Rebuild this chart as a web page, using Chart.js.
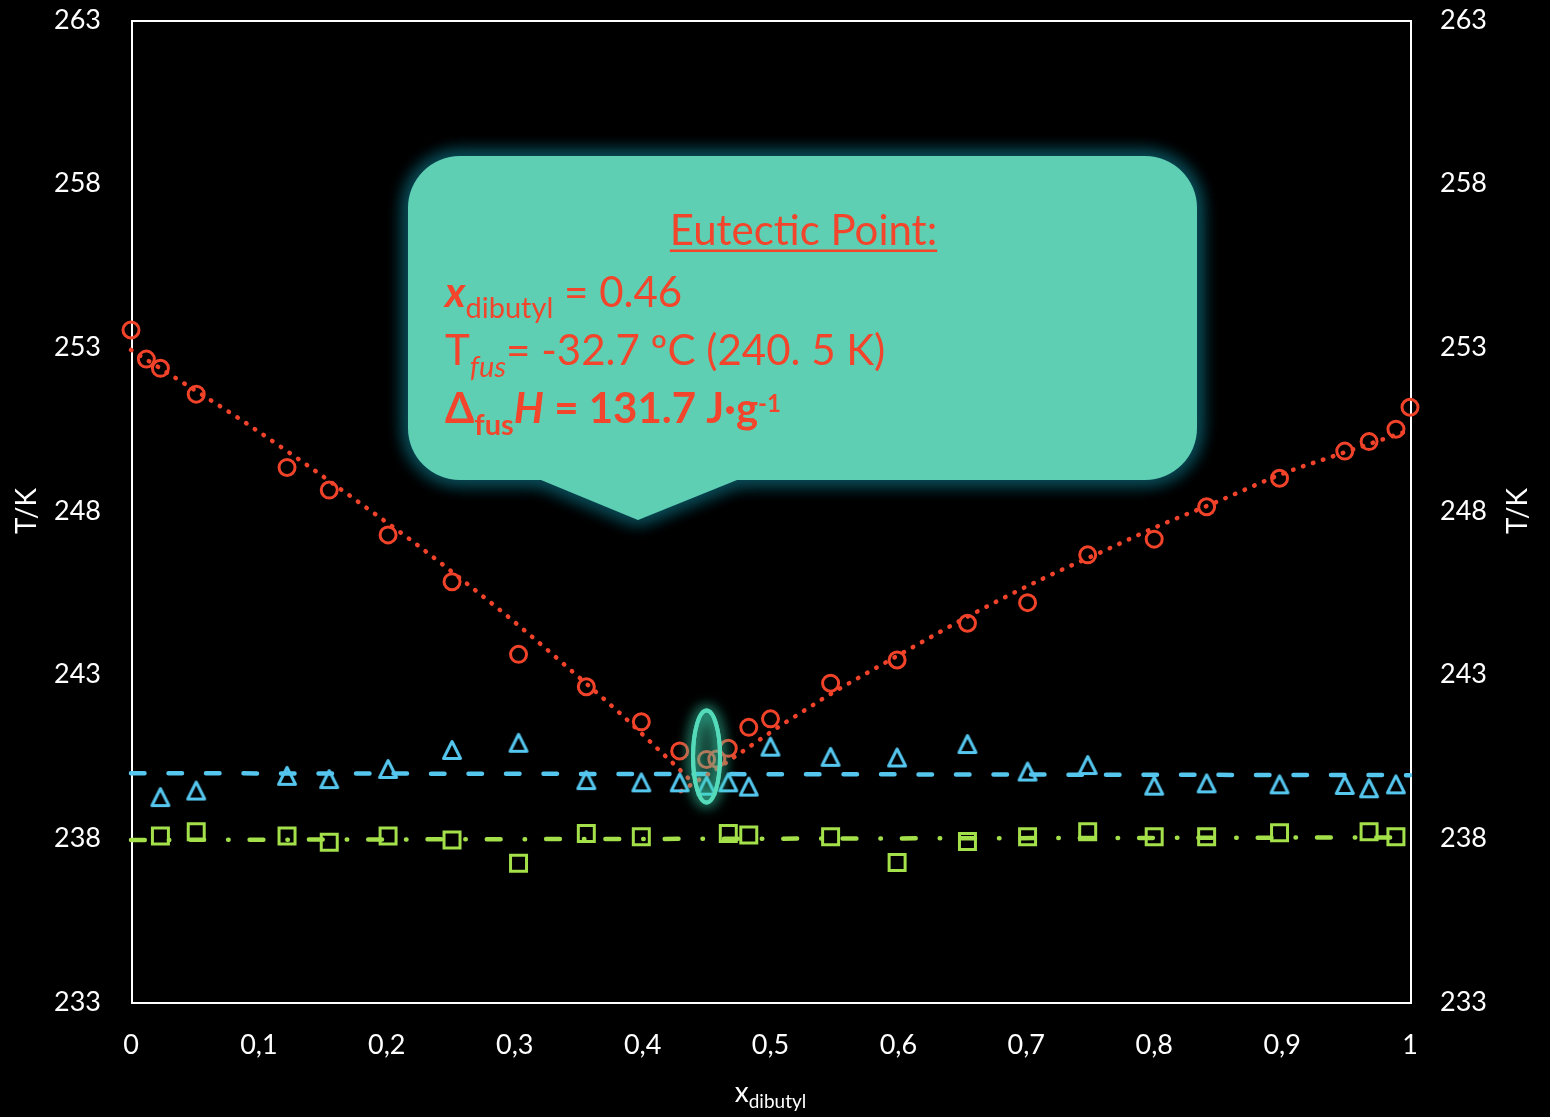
<!DOCTYPE html>
<html>
<head>
<meta charset="utf-8">
<title>Solid–liquid phase diagram</title>
<script src="https://cdn.jsdelivr.net/npm/chart.js@4.4.1/dist/chart.umd.min.js"></script>
<style>
  html, body { margin: 0; padding: 0; background: #000; }
  canvas { display: block; }
</style>
</head>
<body>
<canvas id="chart" width="1550" height="1117"></canvas>
<script>
// ---- data ---------------------------------------------------------------
// Liquidus temperatures (open circles)
const liqX = [0, 0.012, 0.023, 0.051, 0.122, 0.155, 0.201, 0.251, 0.303, 0.356, 0.399, 0.429, 0.450, 0.458,
              0.467, 0.483, 0.500, 0.547, 0.599, 0.654, 0.701, 0.748, 0.800, 0.841, 0.898, 0.949, 0.968, 0.989, 1.000];
const liqT = [253.53, 252.64, 252.36, 251.57, 249.33, 248.64, 247.27, 245.84, 243.62, 242.63, 241.56, 240.67, 240.41, 240.42,
              240.75, 241.39, 241.65, 242.74, 243.45, 244.57, 245.20, 246.66, 247.14, 248.13, 249.00, 249.83, 250.12, 250.50, 251.17];

// Eutectic transition (triangles)
const eutX = [0.023, 0.051, 0.122, 0.155, 0.201, 0.251, 0.303, 0.356, 0.399, 0.429, 0.450, 0.467, 0.483,
              0.500, 0.547, 0.599, 0.654, 0.701, 0.748, 0.800, 0.841, 0.898, 0.949, 0.968, 0.989];
const eutT = [239.26, 239.46, 239.91, 239.81, 240.12, 240.70, 240.92, 239.78, 239.71, 239.71, 239.61, 239.71, 239.58,
              240.80, 240.49, 240.47, 240.88, 240.04, 240.24, 239.61, 239.68, 239.65, 239.63, 239.53, 239.65];

// Solid–solid transition (squares)
const ssX = [0.023, 0.051, 0.122, 0.155, 0.201, 0.251, 0.303, 0.356, 0.399, 0.467, 0.483,
             0.547, 0.599, 0.654, 0.701, 0.748, 0.800, 0.841, 0.898, 0.968, 0.989];
const ssT = [238.07, 238.20, 238.07, 237.88, 238.07, 237.95, 237.24, 238.15, 238.05, 238.15, 238.10,
             238.05, 237.26, 237.90, 238.05, 238.20, 238.05, 238.05, 238.17, 238.20, 238.05];

// Liquidus model curves, left and right branches
const fitLeftX = [0, 0.0435, 0.087, 0.1363, 0.178, 0.2195, 0.2598, 0.2995, 0.3453, 0.3837, 0.4149, 0.4271, 0.4394];
const fitLeftT = [252.92, 251.85, 250.76, 249.44, 248.27, 247.09, 245.87, 244.62, 243.09, 241.77, 240.62, 240.17, 239.69];
const fitRightX = [0.430, 0.4396, 0.4579, 0.4787, 0.5066, 0.5283, 0.5432, 0.5575, 0.6099, 0.6622, 0.7154,
                   0.7623, 0.8014, 0.8483, 0.9038, 0.9359, 1.000];
const fitRightT = [239.44, 239.68, 240.12, 240.67, 241.41, 241.95, 242.32, 242.65, 243.81, 244.94, 245.98,
                   246.81, 247.51, 248.27, 249.19, 249.62, 250.47];

// Mean lines of the two invariant transitions
const eutLineX = [0, 1];
const eutLineT = [239.99, 239.93];
const ssLineX = [0, 1];
const ssLineT = [237.95, 238.03];

// Axis ticks
const xTickValues = [0, 0.1, 0.2, 0.3, 0.4, 0.5, 0.6, 0.7, 0.8, 0.9, 1];
const xTickLabels = ['0', '0,1', '0,2', '0,3', '0,4', '0,5', '0,6', '0,7', '0,8', '0,9', '1'];
const yTickValues = [233, 238, 243, 248, 253, 258, 263];
const yTickLabels = ['233', '238', '243', '248', '253', '258', '263'];

// Eutectic point marker and its annotation
const eutecticMark = { x: 0.450, T: 240.5 };
const noteTitle = 'Eutectic Point:';
const noteX = '0.46';
const noteTfus = '-32.7 ºC (240. 5 K)';
const noteH = '131.7 J·g';

// ---- styling --------------------------------------------------------------
const FONT = 'Lato, Carlito, "Open Sans", sans-serif';
const RED = '#F0432A';
const BLUE = '#55C6EE';
const GREEN = '#A3E04A';
const NOTE_FILL = '#5ECFB3';
const NOTE_TEXT = '#F2452B';

const pts = (xs, ys) => xs.map((x, i) => ({ x: x, y: ys[i] }));

// Open triangle marker (isosceles, centred on its bounding box)
function triangleMarker(color) {
  const c = document.createElement('canvas');
  c.width = 24; c.height = 24;
  const g = c.getContext('2d');
  g.strokeStyle = color;
  g.lineWidth = 3;
  g.lineJoin = 'round';
  g.beginPath();
  g.moveTo(12, 3.5);
  g.lineTo(20.5, 20.5);
  g.lineTo(3.5, 20.5);
  g.closePath();
  g.stroke();
  return c;
}

// ---- plugins --------------------------------------------------------------
const framePlugin = {
  id: 'frame',
  beforeDatasetsDraw(chart) {
    const { ctx, chartArea: a } = chart;
    ctx.save();
    ctx.strokeStyle = '#fff';
    ctx.lineWidth = 2;
    ctx.strokeRect(a.left + 1, a.top + 1, a.right - a.left, a.bottom - a.top);
    ctx.restore();
  }
};

function drawRuns(ctx, x, y, parts) {
  for (const p of parts) {
    ctx.font = p.f;
    ctx.fillText(p.t, x, y + (p.dy || 0));
    x += ctx.measureText(p.t).width;
  }
  return x;
}

function calloutPath(ctx, L, T, R, B, r, pL, pX, pR, pY) {
  ctx.beginPath();
  ctx.moveTo(L + r, T);
  ctx.lineTo(R - r, T);
  ctx.arcTo(R, T, R, T + r, r);
  ctx.lineTo(R, B - r);
  ctx.arcTo(R, B, R - r, B, r);
  ctx.lineTo(pR, B);
  ctx.lineTo(pX, pY);
  ctx.lineTo(pL, B);
  ctx.lineTo(L + r, B);
  ctx.arcTo(L, B, L, B - r, r);
  ctx.lineTo(L, T + r);
  ctx.arcTo(L, T, L + r, T, r);
  ctx.closePath();
}

const overlayPlugin = {
  id: 'overlay',
  afterDatasetsDraw(chart) {
    const { ctx, scales } = chart;
    const xs = scales.x, ys = scales.y;

    // glowing ellipse around the eutectic composition
    const ex = xs.getPixelForValue(eutecticMark.x);
    const ey = ys.getPixelForValue(eutecticMark.T);
    ctx.save();
    ctx.beginPath();
    ctx.ellipse(ex, ey, 13.5, 46, 0, 0, Math.PI * 2);
    ctx.fillStyle = 'rgba(70, 210, 175, 0.25)';
    ctx.fill();
    ctx.shadowColor = 'rgba(60, 225, 185, 0.9)';
    ctx.shadowBlur = 14;
    ctx.strokeStyle = '#55DBBA';
    ctx.lineWidth = 4;
    ctx.stroke();
    ctx.stroke();
    ctx.restore();

    // callout box with a dark teal halo
    const L = 408, T = 156, R = 1197, B = 480;
    ctx.save();
    calloutPath(ctx, L, T, R, B, 52, 541, 638, 737, 520);
    ctx.shadowColor = 'rgba(10, 76, 88, 1)';
    ctx.shadowBlur = 20;
    ctx.fillStyle = '#0B4A55';
    ctx.fill();
    ctx.fill();
    ctx.fill();
    ctx.shadowBlur = 0;
    ctx.shadowColor = 'transparent';
    calloutPath(ctx, L, T, R, B, 52, 541, 638, 737, 520);
    ctx.fillStyle = NOTE_FILL;
    ctx.fill();
    ctx.restore();

    // callout text
    ctx.save();
    ctx.fillStyle = NOTE_TEXT;
    ctx.textAlign = 'left';
    ctx.textBaseline = 'alphabetic';
    ctx.font = '42px ' + FONT;
    const tw = ctx.measureText(noteTitle).width;
    const tx = 803.5 - tw / 2;
    ctx.fillText(noteTitle, tx, 245);
    ctx.fillRect(tx, 249.5, tw, 2.5);

    drawRuns(ctx, 445, 307, [
      { t: 'x', f: 'italic bold 42px ' + FONT },
      { t: 'dibutyl', f: '29px ' + FONT, dy: 11 },
      { t: ' = ' + noteX, f: '42px ' + FONT }
    ]);
    drawRuns(ctx, 445, 365, [
      { t: 'T', f: '42px ' + FONT },
      { t: 'fus', f: 'italic 29px ' + FONT, dy: 12 },
      { t: '= ' + noteTfus, f: '42px ' + FONT }
    ]);
    drawRuns(ctx, 445, 423, [
      { t: 'Δ', f: 'bold 42px ' + FONT },
      { t: 'fus', f: 'bold 29px ' + FONT, dy: 12 },
      { t: 'H', f: 'italic bold 42px ' + FONT },
      { t: ' = ' + noteH, f: 'bold 42px ' + FONT },
      { t: '-1', f: 'bold 24px ' + FONT, dy: -11 }
    ]);
    ctx.restore();
  },
  afterDraw(chart) {
    const { ctx, chartArea: a } = chart;
    const midY = (a.top + a.bottom) / 2;
    ctx.save();
    ctx.fillStyle = '#fff';
    ctx.textAlign = 'center';
    ctx.textBaseline = 'alphabetic';
    ctx.font = '28px ' + FONT;
    // vertical axis titles, both reading bottom-to-top
    for (const bx of [36, 1527]) {
      ctx.save();
      ctx.translate(bx, midY);
      ctx.rotate(-Math.PI / 2);
      ctx.fillText('T/K', 0, 0);
      ctx.restore();
    }
    // horizontal axis title with subscript
    ctx.textAlign = 'left';
    ctx.font = '28px ' + FONT;
    const w1 = ctx.measureText('x').width;
    ctx.font = '19px ' + FONT;
    const w2 = ctx.measureText('dibutyl').width;
    const x0 = (a.left + a.right) / 2 - (w1 + w2) / 2;
    drawRuns(ctx, x0, 1102, [
      { t: 'x', f: '28px ' + FONT },
      { t: 'dibutyl', f: '19px ' + FONT, dy: 6 }
    ]);
    ctx.restore();
  }
};

// ---- chart ------------------------------------------------------------------
const tickFont = { family: FONT, size: 27 };

const yScale = (position, width) => ({
  type: 'linear',
  position: position,
  min: 233,
  max: 263,
  grid: { display: false, drawTicks: false },
  border: { display: false },
  ticks: {
    color: '#fff',
    font: tickFont,
    padding: 30,
    callback: (v, i) => yTickLabels[i]
  },
  afterBuildTicks: s => { s.ticks = yTickValues.map(v => ({ value: v })); },
  afterFit: s => { s.width = width; s.paddingTop = 0; s.paddingBottom = 0; }
});

new Chart(document.getElementById('chart'), {
  type: 'scatter',
  data: {
    datasets: [
      {
        label: 'Liquidus',
        data: pts(liqX, liqT),
        showLine: false,
        pointStyle: 'circle',
        pointRadius: 8,
        pointHoverRadius: 8,
        pointBorderWidth: 3,
        pointBorderColor: RED,
        pointBackgroundColor: 'rgba(0,0,0,0)',
        clip: false
      },
      {
        label: 'Eutectic',
        data: pts(eutX, eutT),
        showLine: false,
        pointStyle: triangleMarker(BLUE),
        pointRadius: 10,
        clip: false
      },
      {
        label: 'Solid–solid',
        data: pts(ssX, ssT),
        showLine: false,
        pointStyle: 'rect',
        pointRadius: 11.3,
        pointHoverRadius: 11.3,
        pointBorderWidth: 3,
        pointBorderColor: GREEN,
        pointBackgroundColor: 'rgba(0,0,0,0)',
        clip: false
      },
      {
        label: 'Liquidus model (left)',
        data: pts(fitLeftX, fitLeftT),
        showLine: true,
        pointRadius: 0,
        borderColor: RED,
        borderWidth: 4.5,
        borderDash: [0.5, 10],
        borderCapStyle: 'round',
        cubicInterpolationMode: 'monotone',
        clip: false
      },
      {
        label: 'Liquidus model (right)',
        data: pts(fitRightX, fitRightT),
        showLine: true,
        pointRadius: 0,
        borderColor: RED,
        borderWidth: 4.5,
        borderDash: [0.5, 10],
        borderCapStyle: 'round',
        cubicInterpolationMode: 'monotone',
        clip: false
      },
      {
        label: 'Eutectic mean',
        data: pts(eutLineX, eutLineT),
        showLine: true,
        pointRadius: 0,
        borderColor: BLUE,
        borderWidth: 4.5,
        borderDash: [13.5, 24],
        borderCapStyle: 'round',
        clip: false
      },
      {
        label: 'Solid–solid mean',
        data: pts(ssLineX, ssLineT),
        showLine: true,
        pointRadius: 0,
        borderColor: GREEN,
        borderWidth: 4.5,
        borderDash: [13.8, 24, 0.5, 21],
        borderCapStyle: 'round',
        clip: false
      }
    ]
  },
  options: {
    responsive: false,
    animation: false,
    devicePixelRatio: 1,
    events: [],
    layout: { padding: { top: 20, left: 0, right: 0, bottom: 0 } },
    plugins: {
      legend: { display: false },
      tooltip: { enabled: false }
    },
    scales: {
      x: {
        type: 'linear',
        position: 'bottom',
        min: 0,
        max: 1,
        grid: { display: false, drawTicks: false },
        border: { display: false },
        ticks: {
          color: '#fff',
          font: tickFont,
          padding: 27,
          maxRotation: 0,
          autoSkip: false,
          callback: (v, i) => xTickLabels[i]
        },
        afterBuildTicks: s => { s.ticks = xTickValues.map(v => ({ value: v })); },
        afterFit: s => { s.height = 115; s.paddingLeft = 0; s.paddingRight = 0; }
      },
      y: yScale('left', 131),
      y2: yScale('right', 140)
    }
  },
  plugins: [framePlugin, overlayPlugin]
});
</script>
</body>
</html>
